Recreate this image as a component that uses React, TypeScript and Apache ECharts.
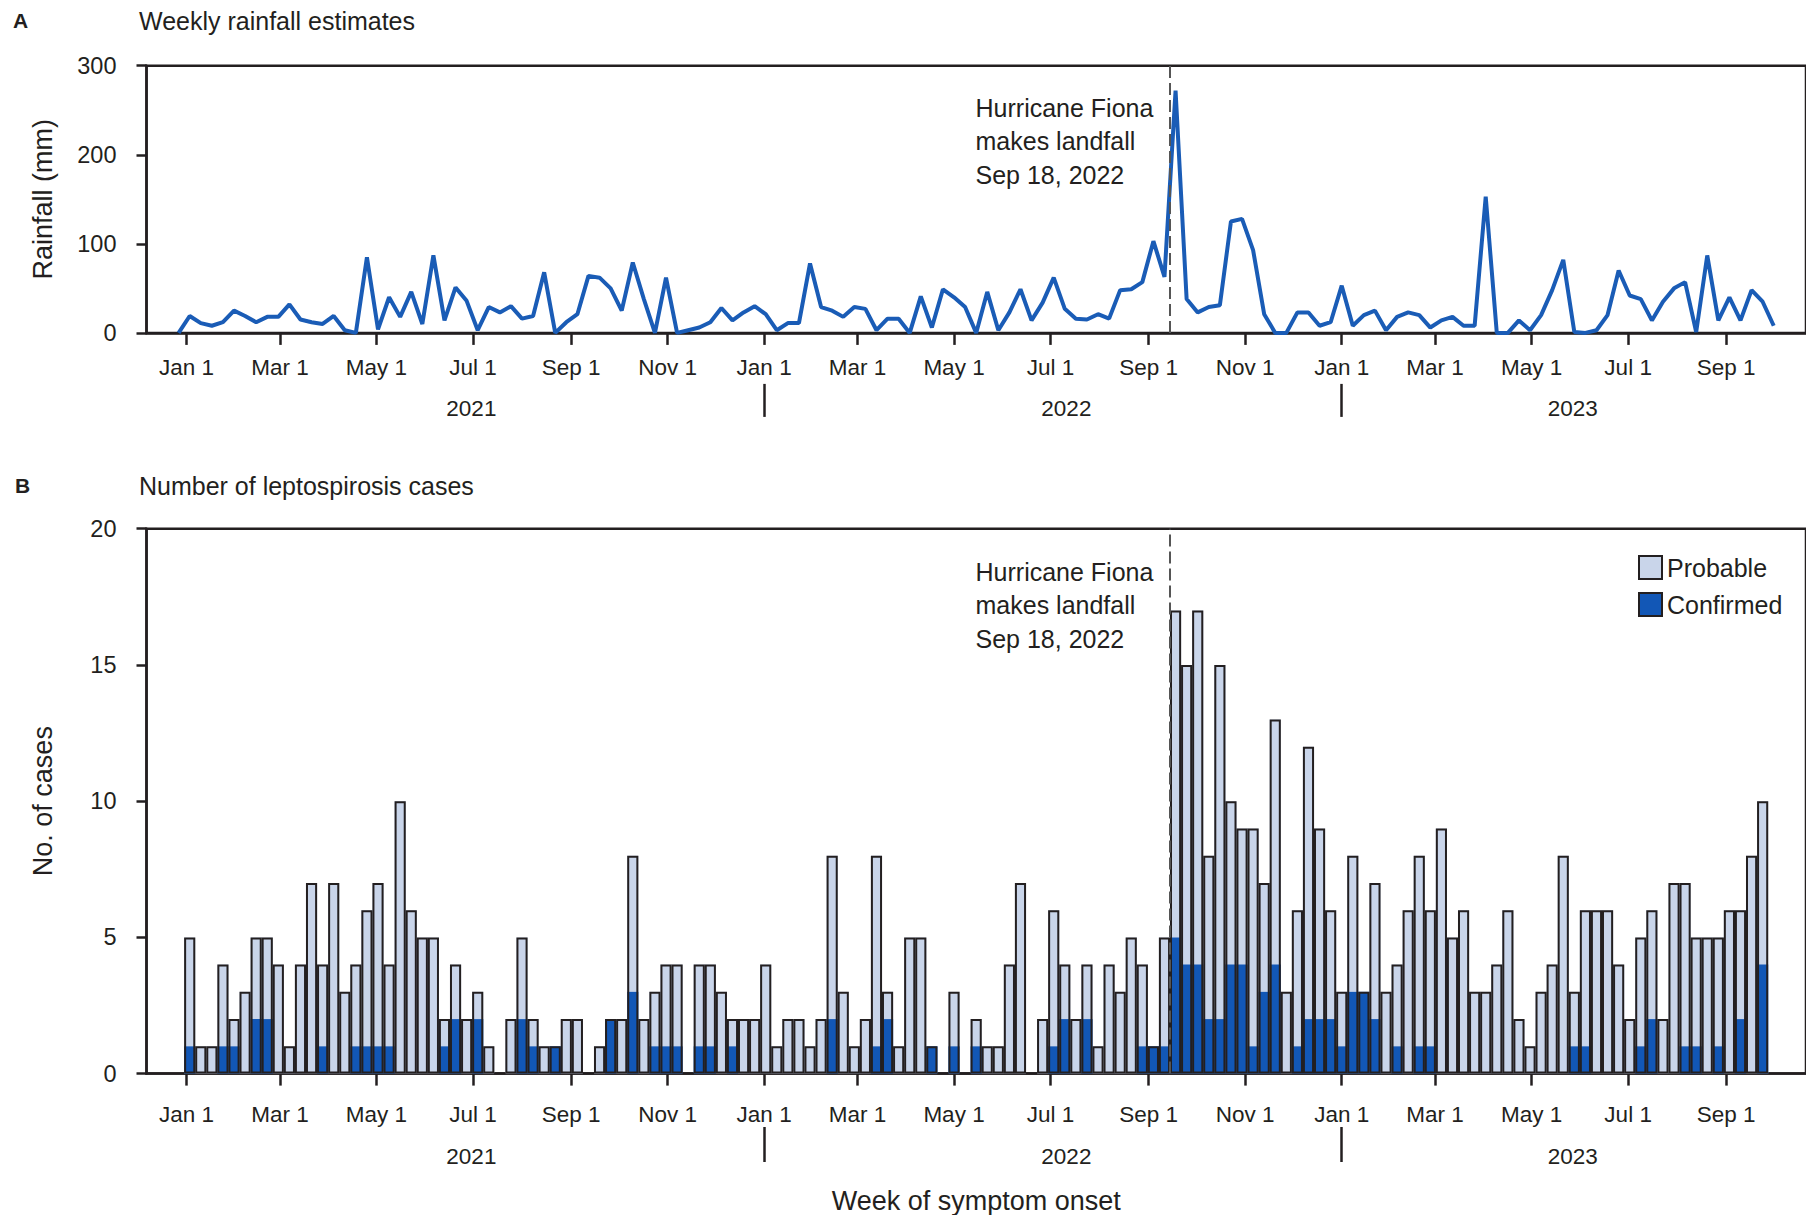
import React, { useEffect, useRef } from 'react';
import * as echarts from 'echarts';

// ---------- DATA ----------
// Weekly rainfall (mm); weeks start Sunday 2020-12-27
const RAIN_WEEK0 = '2020-12-27';
const RAINFALL_MM = [
  0, 19, 11, 8, 12, 25, 19, 12, 18, 18,
  32, 15, 12, 10, 19, 3, 0, 85, 4, 40,
  18, 46, 10, 87, 14, 51, 36, 3, 29, 23,
  30, 16, 19, 68, 0, 12, 21, 64, 62, 50,
  25, 79, 38, 0, 62, 0, 3, 6, 12, 28,
  14, 23, 30, 21, 3, 11, 11, 78, 29, 25,
  18, 29, 27, 3, 16, 16, 0, 41, 6, 49,
  40, 29, 0, 46, 3, 23, 49, 14, 34, 62,
  27, 16, 15, 21, 16, 48, 49, 57, 103, 63,
  272, 38, 23, 29, 31, 125, 128, 93, 21, 0,
  0, 23, 23, 8, 12, 53, 8, 20, 25, 3,
  18, 23, 20, 6, 14, 18, 8, 8, 153, 0,
  0, 14, 3, 20, 48, 82, 1, 0, 3, 20,
  70, 42, 38, 14, 35, 50, 57, 1, 87, 14,
  40, 14, 48, 35, 8,
];

// Weekly leptospirosis cases; weeks start Sunday 2021-01-03
const CASE_WEEK0 = '2021-01-03';
const TOTAL_CASES = [
  5, 1, 1, 4, 2, 3, 5, 5, 4, 1,
  4, 7, 4, 7, 3, 4, 6, 7, 4, 10,
  6, 5, 5, 2, 4, 2, 3, 1, 0, 2,
  5, 2, 1, 1, 2, 2, 0, 1, 2, 2,
  8, 2, 3, 4, 4, 0, 4, 4, 3, 2,
  2, 2, 4, 1, 2, 2, 1, 2, 8, 3,
  1, 2, 8, 3, 1, 5, 5, 1, 0, 3,
  0, 2, 1, 1, 4, 7, 0, 2, 6, 4,
  2, 4, 1, 4, 3, 5, 4, 1, 5, 17,
  15, 17, 8, 15, 10, 9, 9, 7, 13, 3,
  6, 12, 9, 6, 3, 8, 3, 7, 3, 4,
  6, 8, 6, 9, 5, 6, 3, 3, 4, 6,
  2, 1, 3, 4, 8, 3, 6, 6, 6, 4,
  2, 5, 6, 2, 7, 7, 5, 5, 5, 6,
  6, 8, 10,
];
const CONFIRMED_CASES = [
  1, 0, 0, 1, 1, 0, 2, 2, 0, 0,
  0, 0, 1, 0, 0, 1, 1, 1, 1, 0,
  0, 0, 0, 1, 2, 0, 2, 0, 0, 0,
  2, 1, 0, 1, 0, 0, 0, 0, 2, 0,
  3, 0, 1, 1, 1, 0, 1, 1, 0, 1,
  0, 0, 0, 0, 0, 0, 0, 0, 2, 0,
  0, 0, 1, 2, 0, 0, 0, 1, 0, 1,
  0, 1, 0, 0, 0, 0, 0, 0, 1, 2,
  0, 2, 0, 0, 0, 0, 1, 1, 1, 5,
  4, 4, 2, 2, 4, 4, 1, 3, 4, 0,
  1, 2, 2, 2, 1, 3, 3, 2, 0, 1,
  0, 1, 1, 0, 0, 0, 0, 0, 0, 0,
  0, 0, 0, 0, 0, 1, 1, 0, 0, 0,
  0, 1, 2, 0, 0, 1, 1, 0, 1, 0,
  2, 0, 4,
];

const MONTH_TICK_DATES = [
  '2021-01-01', '2021-03-01', '2021-05-01', '2021-07-01', '2021-09-01', '2021-11-01',
  '2022-01-01', '2022-03-01', '2022-05-01', '2022-07-01', '2022-09-01', '2022-11-01',
  '2023-01-01', '2023-03-01', '2023-05-01', '2023-07-01', '2023-09-01',
];
const MONTH_NAMES = ['Jan', 'Feb', 'Mar', 'Apr', 'May', 'Jun', 'Jul', 'Aug', 'Sep', 'Oct', 'Nov', 'Dec'];
const YEAR_BREAK_DATES = ['2022-01-01', '2023-01-01'];
const YEAR_LABELS = ['2021', '2022', '2023'];
const HURRICANE_DATE = '2022-09-18';
const HURRICANE_TEXT = 'Hurricane Fiona\nmakes landfall\nSep 18, 2022';

// ---------- helpers ----------
const ORIGIN = Date.UTC(2021, 0, 1);
const dayOf = (iso: string) => Math.round((Date.parse(iso + 'T00:00:00Z') - ORIGIN) / 86400000);
const monthLabel = (iso: string) => {
  const d = new Date(iso + 'T00:00:00Z');
  return `${MONTH_NAMES[d.getUTCMonth()]} ${d.getUTCDate()}`;
};

const FONT = '"Liberation Sans", Arial, sans-serif';
const INK = '#231f20';
const LINE_BLUE = '#1a5cb6';
const CONF_BLUE = '#1257b6';
const PROB_FILL = '#c9d5ea';

const GRID_LEFT = 146.5;
const GRID_RIGHT_EDGE = 1816;
const XMIN = -25.3;
const XMAX = 1023.4;
const PX_PER_DAY = (GRID_RIGHT_EDGE - GRID_LEFT) / (XMAX - XMIN);
const BAR_W = 7 * PX_PER_DAY;

const monthDays = MONTH_TICK_DATES.map(dayOf);
const monthMap = new Map<number, string>();
MONTH_TICK_DATES.forEach((d) => monthMap.set(dayOf(d), monthLabel(d)));
const yearBreaks = YEAR_BREAK_DATES.map(dayOf);
// year label anchors (days since 2021-01-01), centred under each year block
const YEAR_ANCHORS = [180, 556, 876];
const yearMap = new Map<number, string>();
YEAR_ANCHORS.forEach((d, i) => yearMap.set(d, YEAR_LABELS[i]));

const rain0 = dayOf(RAIN_WEEK0);
const case0 = dayOf(CASE_WEEK0);
const HURRICANE_X = dayOf(HURRICANE_DATE) - 3.5;

function monthAxis(gridIndex: number, margin: number) {
  return {
    type: 'value', gridIndex, min: XMIN, max: XMAX,
    axisLine: { show: true, onZero: false, lineStyle: { color: INK, width: 2.5 } },
    axisTick: { show: true, customValues: monthDays, length: 12, lineStyle: { color: INK, width: 2.5 } },
    axisLabel: {
      show: true, customValues: monthDays, margin,
      formatter: (v: number) => monthMap.get(Math.round(v)) ?? '',
      fontSize: 22.5, color: INK, fontFamily: FONT,
    },
    splitLine: { show: false },
  };
}

function yearAxis(gridIndex: number, offset: number, tickLen: number, margin: number, name?: string) {
  return {
    type: 'value', gridIndex, min: XMIN, max: XMAX, offset, position: 'bottom',
    axisLine: { show: false, onZero: false },
    axisTick: { show: true, customValues: yearBreaks, length: tickLen, lineStyle: { color: INK, width: 2.5 } },
    axisLabel: {
      show: true, customValues: YEAR_ANCHORS, margin,
      formatter: (v: number) => yearMap.get(Math.round(v)) ?? '',
      fontSize: 22.5, color: INK, fontFamily: FONT,
    },
    splitLine: { show: false },
    name: name ?? '', nameLocation: 'middle', nameGap: 60,
    nameTextStyle: { fontSize: 27, color: INK, fontFamily: FONT },
  };
}

function valueAxis(gridIndex: number, max: number, interval: number, name: string) {
  return {
    type: 'value', gridIndex, min: 0, max, interval,
    axisLine: { show: true, onZero: false, lineStyle: { color: INK, width: 2.5 } },
    axisTick: { show: true, length: 10, lineStyle: { color: INK, width: 2.5 } },
    axisLabel: { fontSize: 23.5, margin: 30, color: INK, fontFamily: FONT },
    splitLine: { show: false },
    name, nameLocation: 'middle', nameRotate: 90, nameGap: 90,
    nameTextStyle: { fontSize: 27, color: INK, fontFamily: FONT },
  };
}

function hurricaneMarks(yTop: number, dy: number) {
  return {
    markLine: {
      silent: true, symbol: ['none', 'none'], label: { show: false },
      lineStyle: { type: [12, 5], color: '#555', width: 2 },
      data: [{ xAxis: HURRICANE_X }],
    },
    markPoint: {
      silent: true, symbol: 'circle', symbolSize: 1,
      itemStyle: { color: 'rgba(0,0,0,0)' },
      data: [{
        coord: [HURRICANE_X, yTop],
        label: {
          show: true, position: [-194, dy], align: 'left', verticalAlign: 'top',
          formatter: HURRICANE_TEXT, fontSize: 25, lineHeight: 33.4,
          color: INK, fontFamily: FONT,
        },
      }],
    },
  };
}

export default function App() {
  const ref = useRef<HTMLDivElement>(null);
  useEffect(() => {
    const chart = echarts.init(ref.current!, null, { renderer: 'svg' });
    const titleStyle = { color: INK, fontFamily: FONT, fontWeight: 'normal' as const, fontSize: 25 };
    const barCommon = {
      type: 'bar', xAxisIndex: 2, yAxisIndex: 1, barWidth: BAR_W, barGap: '-100%',
    };
    const option = {
      animation: false,
      backgroundColor: '#ffffff',
      title: [
        { text: 'A', left: 13, top: 10, padding: 0, textStyle: { ...titleStyle, fontSize: 21, fontWeight: 'bold' } },
        { text: 'Weekly rainfall estimates', left: 139, top: 8, padding: 0, textStyle: titleStyle },
        { text: 'B', left: 15, top: 475, padding: 0, textStyle: { ...titleStyle, fontSize: 21, fontWeight: 'bold' } },
        { text: 'Number of leptospirosis cases', left: 139, top: 473, padding: 0, textStyle: titleStyle },
      ],
      legend: {
        data: [
          { name: 'Probable', itemStyle: { color: PROB_FILL, borderColor: INK, borderWidth: 2 } },
          { name: 'Confirmed', itemStyle: { color: CONF_BLUE, borderColor: INK, borderWidth: 2 } },
        ],
        orient: 'vertical', left: 1638, top: 555, itemWidth: 23, itemHeight: 23, itemGap: 12,
        padding: 0, icon: 'rect', selectedMode: false,
        textStyle: { fontSize: 25, color: INK, fontFamily: FONT },
      },
      grid: [
        { left: GRID_LEFT, right: 1806 - GRID_RIGHT_EDGE, top: 65.7, height: 267.2, show: true, borderColor: INK, borderWidth: 2.5 },
        { left: GRID_LEFT, right: 1806 - GRID_RIGHT_EDGE, top: 528.7, height: 545.9, show: true, borderColor: INK, borderWidth: 2.5 },
      ],
      xAxis: [
        monthAxis(0, 23),
        yearAxis(0, 51, 33, 13),
        monthAxis(1, 29),
        yearAxis(1, 53.4, 35, 18, 'Week of symptom onset'),
      ],
      yAxis: [
        valueAxis(0, 300, 100, 'Rainfall (mm)'),
        valueAxis(1, 20, 5, 'No. of cases'),
      ],
      series: [
        {
          name: 'Rainfall', type: 'line', xAxisIndex: 0, yAxisIndex: 0,
          data: RAINFALL_MM.map((v, k) => [rain0 + 7 * k, v]),
          symbol: 'none', showSymbol: false,
          lineStyle: { color: LINE_BLUE, width: 4 },
          ...hurricaneMarks(300, 26),
        },
        {
          // probable cases sit on top of confirmed: bar spans 0..(confirmed + probable)
          ...barCommon, name: 'Probable',
          data: TOTAL_CASES.map((t, i) => [case0 + 7 * i, t]),
          itemStyle: { color: PROB_FILL, borderWidth: 0 },
          z: 2,
        },
        {
          ...barCommon, name: 'Confirmed',
          data: CONFIRMED_CASES.map((v, i) => [case0 + 7 * i, v]),
          itemStyle: { color: CONF_BLUE, borderWidth: 0 },
          z: 3,
        },
        {
          ...barCommon, name: 'Outline',
          data: TOTAL_CASES.map((t, i) => [case0 + 7 * i, t]),
          itemStyle: { color: 'rgba(0,0,0,0)', borderColor: INK, borderWidth: 2 },
          z: 4,
          ...hurricaneMarks(20, 27),
        },
      ],
    };
    chart.setOption(option as any);
    return () => chart.dispose();
  }, []);
  return (
    <div
      ref={ref}
      style={{ position: 'absolute', left: 0, top: 0, width: 1806, height: 1215, background: '#fff' }}
    />
  );
}
